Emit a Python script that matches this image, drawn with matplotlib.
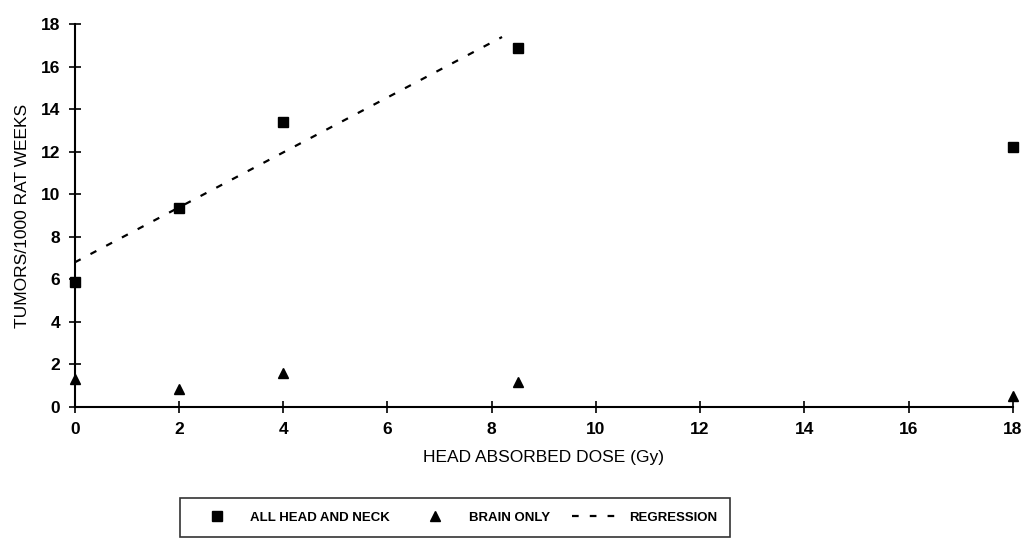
import matplotlib
matplotlib.use("Agg")
import matplotlib.pyplot as plt

# Dawka pochłonięta w głowie (Gy)
dose = [0, 2, 4, 8.5, 18]
head_neck = [5.9, 9.35, 13.4, 16.9, 12.25]
brain_only = [1.3, 0.85, 1.6, 1.15, 0.5]

# Linia regresji (punkty końcowe)
reg_x = [0, 8.2]
reg_y = [6.8, 17.4]

x_ticks = list(range(0, 19, 2))
y_ticks = list(range(0, 19, 2))

plt.rcParams["font.family"] = ["Liberation Sans", "DejaVu Sans"]

fig = plt.figure(figsize=(10.24, 5.39), dpi=100)
ax = fig.add_axes([0.073, 0.245, 0.916, 0.71])

ax.plot(dose, head_neck, "s", color="black", markersize=7, label="ALL HEAD AND NECK")
ax.plot(dose, brain_only, "^", color="black", markersize=7, label="BRAIN ONLY")
ax.plot(reg_x, reg_y, linestyle=(0, (3, 5)), color="black", linewidth=1.6,
        label="REGRESSION")

ax.set_xlim(0, 18)
ax.set_ylim(0, 18)
ax.set_xticks(x_ticks)
ax.set_yticks(y_ticks)
ax.tick_params(direction="inout", length=9, width=1.2, labelsize=12.5, pad=6)
for lbl in ax.get_xticklabels() + ax.get_yticklabels():
    lbl.set_fontweight("bold")
for s in ["top", "right"]:
    ax.spines[s].set_visible(False)
for s in ["left", "bottom"]:
    ax.spines[s].set_linewidth(1.5)
ax.set_xlabel("HEAD ABSORBED DOSE (Gy)", fontsize=12.5, labelpad=10)
ax.set_ylabel("TUMORS/1000 RAT WEEKS", fontsize=12.5, labelpad=8)
for line in ax.lines:
    line.set_clip_on(False)

leg = fig.legend(loc="lower left", bbox_to_anchor=(0.176, 0.004, 0.537, 0.091),
                 mode="expand", ncol=3, frameon=True, fancybox=False,
                 edgecolor="black", handlelength=3.5,
                 prop={"size": 9.5, "weight": "bold"},
                 borderaxespad=0, borderpad=1.0)
leg.get_frame().set_linewidth(1.2)

fig.savefig("out.png", dpi=100)
